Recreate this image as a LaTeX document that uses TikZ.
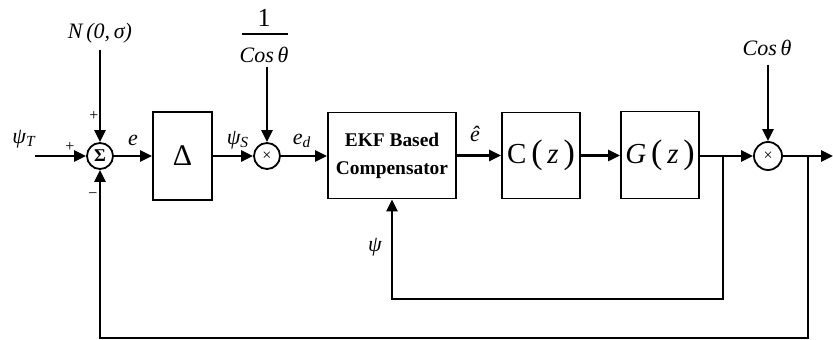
\documentclass[tikz,border=0pt]{standalone}
\usepackage{fontspec}
\setmainfont{Liberation Serif}
\usetikzlibrary{arrows.meta}
\begin{document}
\begin{tikzpicture}[x=0.5pt,y=-0.5pt,
  blk/.style={draw,line width=0.9pt,inner sep=0pt,anchor=center},
  junc/.style={draw,circle,line width=0.9pt,inner sep=0pt,minimum size=13pt},
  sig/.style={line width=1.4pt,-{Triangle[length=6pt,width=5.5pt]}},
  wire/.style={line width=1.4pt},
  lbl/.style={font=\fontsize{11}{13}\selectfont\itshape,inner sep=0pt},
  sgn/.style={font=\fontsize{8}{9}\selectfont,inner sep=0pt},
  tf/.style={font=\fontsize{14.5}{16}\selectfont}]
\useasboundingbox (0,0) rectangle (833,340);
% blocks
\node[junc] (sum) at (100,156) {\fontsize{9}{10}\selectfont\bfseries Σ};
\node[blk,minimum width=29.5pt,minimum height=44pt] (del) at (182.5,156) {\fontsize{15}{15}\selectfont Δ};
\node[junc] (m1) at (267,156) {\fontsize{8}{8}\selectfont ×};
\node[blk,minimum width=64pt,minimum height=43pt,align=center,font=\fontsize{9.7}{14}\selectfont\bfseries] (ekf) at (392,155.5) {EKF Based\\Compensator};
\node[blk,tf,minimum width=39pt,minimum height=43pt] (cz) at (541,155.5) {C\,{\fontsize{17}{17}\selectfont(}\,\textit{z}\,{\fontsize{17}{17}\selectfont)}};
\node[blk,tf,minimum width=39pt,minimum height=43.5pt] (gz) at (660,155) {\textit{G}\,{\fontsize{17}{17}\selectfont(}\,\textit{z}\,{\fontsize{17}{17}\selectfont)}};
\node[junc,minimum size=14pt] (m2) at (768,156) {\fontsize{8}{8}\selectfont ×};
% labels
\node[lbl] (psit) at (24,139) {ψ\textsubscript{T}};
\node[lbl] (nlab) at (100,33) {N\,(0,\,σ)};
\node[lbl,font=\fontsize{13}{13}\selectfont] (one) at (264,18) {1};
\node[lbl] (cosa) at (264,55) {Cos\,θ};
\draw[line width=0.7pt] (242,34) -- (288,34);
\node[lbl] (cosb) at (767,48) {Cos\,θ};
\node[lbl] (elab) at (133,140) {e};
\node[lbl] (psis) at (238,140) {ψ\textsubscript{S}};
\node[lbl] (edlab) at (302,141) {e\textsubscript{d}};
\node[lbl] (ehat) at (475,134) {ê};
\node[lbl] (psi) at (375,247) {ψ};
\node[sgn] (p1) at (70,147) {+};
\node[sgn] (p2) at (94,116) {+};
\node[sgn] (m) at (93,196) {−};
% coordinates
\coordinate (in) at (35,156);
\coordinate (nsrc) at (100,50);
\coordinate (fsrc) at (267,67);
\coordinate (csrc) at (768,65);
\coordinate (b1) at (723,156);
\coordinate (b2) at (808,156);
\coordinate (out) at (833,156);
\coordinate (fb1) at (723,299);
\coordinate (fb2) at (808,338);
% connectors
\draw[sig] (in) -- (sum);
\draw[sig] (nsrc) -- (sum);
\draw[sig] (sum) -- (del);
\draw[sig] (del) -- (m1);
\draw[sig] (fsrc) -- (m1);
\draw[sig] (m1) -- (m1 -| ekf.west);
\draw[sig] (ekf.east |- cz) -- (cz);
\draw[sig] (cz) -- (cz -| gz.west);
\draw[wire] (gz.east |- b1) -- (b1);
\draw[sig] (b1) -- (m2);
\draw[sig] (csrc) -- (m2);
\draw[wire] (m2) -- (b2);
\draw[sig] (b2) -- (out);
\draw[sig] (b1) -- (fb1) -| (ekf.south);
\draw[sig] (b2) -- (fb2) -| (sum.south);
\end{tikzpicture}
\end{document}
